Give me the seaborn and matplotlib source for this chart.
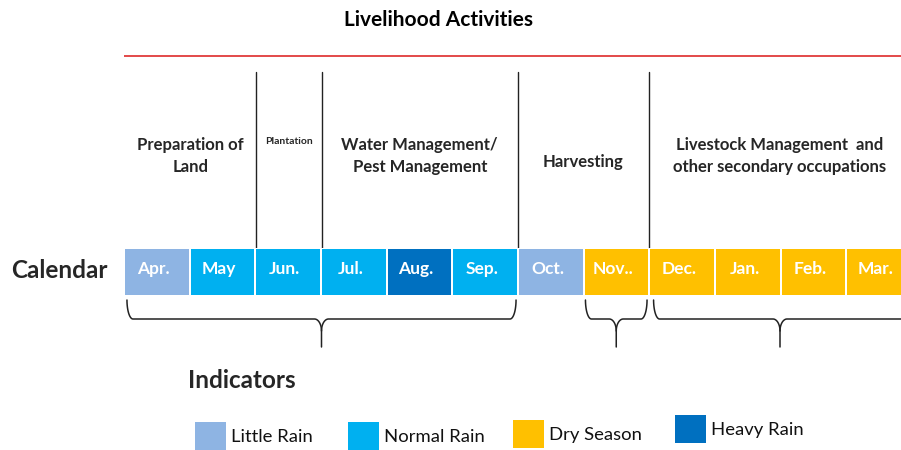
import numpy as np
import matplotlib
matplotlib.use("Agg")
import matplotlib.pyplot as plt
from matplotlib.colors import ListedColormap
from matplotlib.patches import Rectangle
import seaborn as sns

# ---------------- data ----------------
months = ["Apr.", "May", "Jun.", "Jul.", "Aug.", "Sep.", "Oct.", "Nov..", "Dec.", "Jan.", "Feb.", "Mar."]
month_indicator = ["Little Rain", "Normal Rain", "Normal Rain", "Normal Rain", "Heavy Rain", "Normal Rain",
                   "Little Rain", "Dry Season", "Dry Season", "Dry Season", "Dry Season", "Dry Season"]
indicator_names = ["Little Rain", "Normal Rain", "Dry Season", "Heavy Rain"]
indicator_colors = ["#8EB4E3", "#00B0F0", "#FFC000", "#0070C0"]

activity_labels = ["Preparation of\nLand", "Plantation", "Water Management/\nPest Management",
                   "Harvesting", "Livestock Management  and\nother secondary occupations"]
activity_start = [0, 2, 3, 6, 8]
activity_end = [2, 3, 6, 8, 12]

brace_start = [0.03, 7.03, 8.07]
brace_end = [5.97, 7.97, 12.5]
brace_tip = [3.0, 7.5, 10.0]

# ---------------- layout ----------------
W, H = 901, 450
DPI = 100
x0_px, cell_w = 125.0, 65.5
cal_top, cal_bot = 249, 295

sns.set_theme(style="white")
plt.rcParams['font.family'] = ['Lato', 'DejaVu Sans']

fig = plt.figure(figsize=(W / DPI, H / DPI), dpi=DPI)
fig.patch.set_facecolor("white")

# overlay axes: x in month units, y in pixels (top-down)
ax = fig.add_axes([0, 0, 1, 1])
ax.set_xlim(-x0_px / cell_w, (W - x0_px) / cell_w)
ax.set_ylim(H, 0)
ax.axis("off")

def px(xp):
    return (xp - x0_px) / cell_w

# calendar strip as a seaborn heatmap
left = (x0_px - 1) / W
width = (12 * cell_w + 2) / W
axc = fig.add_axes([left, 1 - (cal_bot + 1) / H, width, (cal_bot - cal_top + 2) / H])
codes = np.array([[indicator_names.index(m) for m in month_indicator]])
annot = np.array([months])
sns.heatmap(codes, cmap=ListedColormap(indicator_colors), vmin=-0.5, vmax=3.5,
            annot=annot, fmt="", cbar=False, linewidths=1.2, linecolor="white",
            annot_kws={"color": "white", "fontweight": "bold", "fontsize": 12.5}, ax=axc)
axc.set_xticks([]); axc.set_yticks([])
for t in axc.texts:
    x, y = t.get_position()
    t.set_position((x - 0.05, y - 0.06))

# title + red line
ax.text(px(439), 20, "Livelihood Activities", ha="center", va="center",
        fontsize=15, fontweight="bold", color="black")
ax.plot([px(124), 12], [56, 56], color="#E03A3A", lw=1.3, solid_capstyle="butt")

# activity dividers and labels
for s in activity_start[1:]:
    ax.plot([s, s], [72, 248], color="#222222", lw=1.0)
for lab, s, e in zip(activity_labels, activity_start, activity_end):
    xc = (s + e) / 2
    if lab == "Plantation":
        ax.text(xc, 142, lab, ha="center", va="center", fontsize=7.5, fontweight="bold")
    elif "\n" in lab:
        ax.text(xc, 156, lab, ha="center", va="center", fontsize=12, fontweight="bold", linespacing=1.45)
    else:
        ax.text(xc, 162, lab, ha="center", va="center", fontsize=12, fontweight="bold")

ax.text(px(11), 271, "Calendar", ha="left", va="center", fontsize=17.5, fontweight="bold")

# braces
def brace(a, b, tip, top=300, mid=319, bottom=347):
    t = np.linspace(0, 1, 25)
    k = 6 / cell_w
    kt = 7 / cell_w
    dip = 12
    # left hook: vertical -> horizontal
    hx = list(a + k * (1 - np.cos(t * np.pi / 2)))
    hy = list(top + (mid - top) * np.sin(t * np.pi / 2))
    # tip: horizontal -> vertical
    tx = list(tip - kt * (1 - np.sin(t * np.pi / 2)))
    ty = list(mid + dip * (1 - np.cos(t * np.pi / 2)))
    xs = hx + tx + [tip]
    ys = hy + ty + [bottom]
    ax.plot(xs, ys, color="#222222", lw=1.1)
    # right half
    rhx = list(b - k * (1 - np.cos(t * np.pi / 2)))
    rtx = list(tip + kt * (1 - np.sin(t * np.pi / 2)))
    ax.plot(rhx + rtx, hy + ty, color="#222222", lw=1.1)

for a, b, tip in zip(brace_start, brace_end, brace_tip):
    brace(a, b, tip)

# indicators legend
ax.text(px(188), 381, "Indicators", ha="left", va="center", fontsize=17.5, fontweight="bold")
leg_x = [195, 348, 513, 675]
leg_y = [422, 422, 420, 415]
for name, col, lx, ly in zip(indicator_names, indicator_colors, leg_x, leg_y):
    ax.add_patch(Rectangle((px(lx), ly), 31 / cell_w, 28, facecolor=col, edgecolor="none"))
    ax.text(px(lx + 36), ly + 15, name, ha="left", va="center", fontsize=13.3, color="#111111")

fig.savefig("out.png", dpi=DPI)
